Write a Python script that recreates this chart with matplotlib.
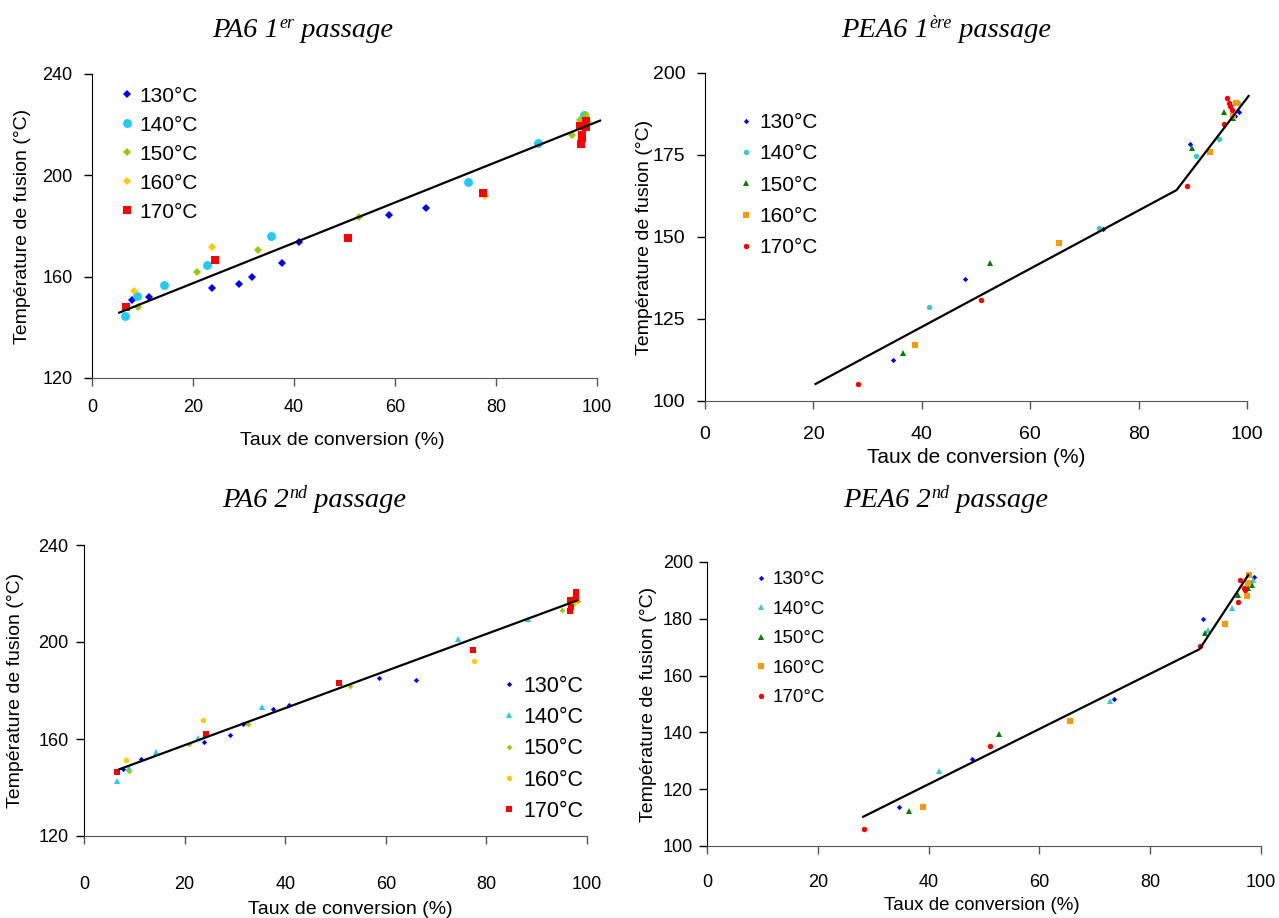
import matplotlib
matplotlib.use("Agg")
import matplotlib.pyplot as plt

plt.rcParams["font.family"] = ["Liberation Sans", "DejaVu Sans"]

temps = ["130°C", "140°C", "150°C", "160°C", "170°C"]

# --- PA6 1er passage ---
pa1_x = [
    [7.9, 11.3, 23.8, 29.1, 31.7, 37.6, 40.9, 58.8, 66.1, 97.5],
    [6.5, 9.0, 14.3, 22.7, 35.4, 74.4, 88.4, 97.5],
    [9.1, 20.8, 32.8, 52.9, 95.1, 96.6, 97.9],
    [8.3, 23.8, 77.9, 97.0, 98.3],
    [6.7, 24.4, 50.6, 77.5, 96.6, 97.9, 97.0, 97.1, 96.8, 97.9],
]
pa1_y = [
    [150.8, 152.0, 155.4, 157.2, 160.0, 165.3, 173.8, 184.2, 187.2, 220.0],
    [144.5, 152.4, 156.7, 164.7, 176.2, 197.5, 212.6, 223.8],
    [148.1, 161.7, 170.5, 183.7, 215.9, 222.0, 223.8],
    [154.5, 171.8, 191.9, 218.5, 221.2],
    [148.1, 166.6, 175.3, 193.2, 219.3, 221.3, 215.9, 214.6, 212.3, 219.0],
]
pa1_fit_x = [5.4, 100.6]
pa1_fit_y = [145.8, 221.6]

# --- PEA6 1ere passage ---
pea1_x = [
    [34.6, 47.9, 73.4, 89.4, 97.8, 98.6],
    [41.4, 72.7, 90.5, 94.8, 98.4],
    [36.5, 52.6, 89.8, 95.8, 97.5],
    [38.8, 65.4, 93.2, 97.5, 98.0],
    [28.3, 50.9, 89.0, 95.8, 96.3, 96.6, 96.9, 97.2],
]
pea1_y = [
    [112.5, 137.3, 152.4, 178.4, 187.0, 188.2],
    [128.7, 152.8, 174.8, 179.9, 191.0],
    [114.6, 142.2, 177.2, 188.1, 186.2],
    [117.0, 148.2, 175.8, 187.0, 191.0],
    [105.2, 130.7, 165.7, 184.5, 192.3, 191.0, 189.8, 188.6],
]
pea1_fit_x = [20.4, 87.0, 100.3]
pea1_fit_y = [105.2, 164.3, 193.0]

# --- PA6 2nd passage ---
pa2_x = [
    [7.8, 11.4, 23.8, 29.0, 31.7, 37.6, 40.8, 58.7, 66.0, 97.5],
    [6.6, 8.9, 14.3, 22.6, 35.4, 74.3, 88.3, 97.8],
    [8.9, 20.9, 32.7, 52.9, 95.0, 97.0, 98.2],
    [8.3, 23.7, 77.6, 97.5, 97.9],
    [6.6, 24.2, 50.6, 77.4, 97.9, 96.6, 96.9, 96.7, 97.8],
]
pa2_y = [
    [147.5, 151.9, 158.6, 161.5, 166.3, 172.3, 174.1, 185.0, 184.5, 217.5],
    [142.7, 148.0, 154.6, 160.6, 173.2, 201.1, 209.6, 219.6],
    [146.9, 158.0, 166.3, 181.9, 213.3, 218.0, 217.0],
    [151.5, 167.8, 192.3, 216.0, 218.5],
    [146.4, 162.1, 182.9, 196.7, 220.7, 217.3, 214.5, 212.8, 218.0],
]
pa2_fit_x = [7.0, 97.9]
pa2_fit_y = [147.5, 217.0]

# --- PEA6 2nd passage ---
pea2_x = [
    [34.7, 47.9, 73.5, 89.5, 98.8],
    [41.8, 72.7, 90.5, 94.7, 98.5],
    [36.5, 52.7, 89.9, 95.9, 97.7, 98.3],
    [38.9, 65.5, 93.5, 97.4, 97.9, 97.7],
    [28.4, 51.1, 89.0, 95.9, 96.2, 96.9, 97.2],
]
pea2_y = [
    [113.9, 130.8, 151.7, 180.0, 194.8],
    [126.4, 151.2, 176.1, 183.9, 193.5],
    [112.3, 139.4, 175.1, 188.4, 190.7, 192.0],
    [113.6, 144.0, 178.2, 188.1, 195.4, 192.5],
    [105.9, 135.2, 170.4, 185.8, 193.7, 190.9, 190.0],
]
pea2_fit_x = [28.2, 88.9, 97.7]
pea2_fit_y = [110.3, 169.3, 195.4]

# marker styles (marker, colour, size) per panel
sty_pa1 = [("D", "#0000FF", 4.3), ("o", "#1ECCF6", 6.4), ("D", "#99CC00", 4.3),
           ("D", "#FFCC00", 4.3), ("s", "#FF0000", 5.8)]
sty_pea = [("D", "#0000FF", 2.7), ("o", "#33CCCC", 3.9), ("^", "#008000", 4.7),
           ("s", "#FF9900", 3.9), ("o", "#FF0000", 3.9)]
sty_pea2 = [("D", "#0000FF", 2.7), ("^", "#33CCCC", 4.7), ("^", "#008000", 4.7),
            ("s", "#FF9900", 3.9), ("o", "#FF0000", 3.9)]
sty_pa2 = [("D", "#0000FF", 2.7), ("^", "#1ECCF6", 4.7), ("D", "#99CC00", 2.9),
           ("o", "#FFCC00", 3.9), ("s", "#FF0000", 3.9)]

W, H = 1279, 918
fig = plt.figure(figsize=(W / 100, H / 100), dpi=100)


def px_axes(l, r, t, b):
    return fig.add_axes([l / W, 1 - b / H, (r - l) / W, (b - t) / H])


def setup(ax, xs, ys, fit_x, fit_y, styles, ylim, yticks, leg, tick_fs, xpad, ypad,
          xlab_pos, ylab_pos, xlab_fs):
    for (m, c, s), x, y, lab in zip(styles, xs, ys, temps):
        ax.plot(x, y, ls="none", marker=m, color=c, ms=s, mew=0, label=lab,
                clip_on=False, zorder=3)
    ax.plot(fit_x, fit_y, color="black", lw=1.6, clip_on=False, zorder=4)
    ax.set_xlim(0, 100)
    ax.set_ylim(*ylim)
    ax.set_xticks(range(0, 101, 20))
    ax.set_yticks(yticks)
    for s in ["top", "right"]:
        ax.spines[s].set_visible(False)
    ax.spines["left"].set_color("black")
    ax.spines["bottom"].set_color("#555555")
    ax.tick_params(axis="x", direction="out", length=6, width=1, color="#555555",
                   labelsize=tick_fs, pad=xpad)
    ax.tick_params(axis="y", direction="out", length=6, width=1, color="black",
                   labelsize=tick_fs, pad=ypad)
    ax.set_xlabel("Taux de conversion (%)", fontsize=xlab_fs, va="center")
    ax.set_ylabel("Température de fusion (°C)", fontsize=14, va="center")
    ax.xaxis.set_label_coords(*xlab_pos)
    ax.yaxis.set_label_coords(*ylab_pos)
    anchor, fs, lsp, htp = leg
    ax.legend(loc="upper left", bbox_to_anchor=anchor, frameon=False, fontsize=fs,
              borderpad=0, borderaxespad=0, handlelength=0.8, handletextpad=htp,
              labelspacing=lsp, markerscale=1.0)


def title(ax, x, y, main, sup, rest):
    kw = dict(family=["Liberation Serif", "DejaVu Serif"], style="italic")
    t1 = ax.text(x / W, 1 - y / H, main, transform=fig.transFigure, fontsize=20.5,
                 va="baseline", ha="left", **kw)
    t2 = ax.annotate(sup, xy=(1, 0), xycoords=t1, xytext=(0.5, 8),
                     textcoords="offset points", fontsize=13, va="bottom",
                     ha="left", annotation_clip=False, **kw)
    ax.annotate(rest, xy=(1, 0), xycoords=(t2, t1), fontsize=20.5, va="bottom",
                ha="left", annotation_clip=False, **kw)


ax1 = px_axes(92, 597, 74, 378)
setup(ax1, pa1_x, pa1_y, pa1_fit_x, pa1_fit_y, sty_pa1, (120, 240), [120, 160, 200, 240],
      (((118.7 - 92) / 505, 0.958), 15, 0.48, 0.2), 13, 9, 8,
      (0.495, -0.205), (-0.138, 0.5), 14)
title(ax1, 212, 37, "PA6 1", "er", " passage")

ax2 = px_axes(705, 1247, 73, 401)
setup(ax2, pea1_x, pea1_y, pea1_fit_x, pea1_fit_y, sty_pea, (100, 200),
      [100, 125, 150, 175, 200],
      ((0.060, 0.878), 15, 0.59, 0.27), 14, 12, 8,
      (0.5, -0.171), (-0.111, 0.5), 15)
title(ax2, 841, 37, "PEA6 1", "ère", " passage")

ax3 = px_axes(84, 587, 545, 836)
setup(ax3, pa2_x, pa2_y, pa2_fit_x, pa2_fit_y, sty_pa2, (120, 240), [120, 160, 200, 240],
      ((0.828, 0.551), 15.5, 0.48, 0.25), 13, 23, 5,
      (0.529, -0.254), (-0.137, 0.5), 14)
title(ax3, 222, 507, "PA6 2", "nd", " passage")

ax4 = px_axes(707, 1261, 562, 846)
setup(ax4, pea2_x, pea2_y, pea2_fit_x, pea2_fit_y, sty_pea2, (100, 200),
      [100, 120, 140, 160, 180, 200],
      ((0.084, 0.968), 13.5, 0.66, 0.24), 13, 14, 4,
      (0.496, -0.21), (-0.106, 0.5), 13.5)
title(ax4, 843, 507, "PEA6 2", "nd", " passage")

fig.savefig("out.png", dpi=100, facecolor="white")
